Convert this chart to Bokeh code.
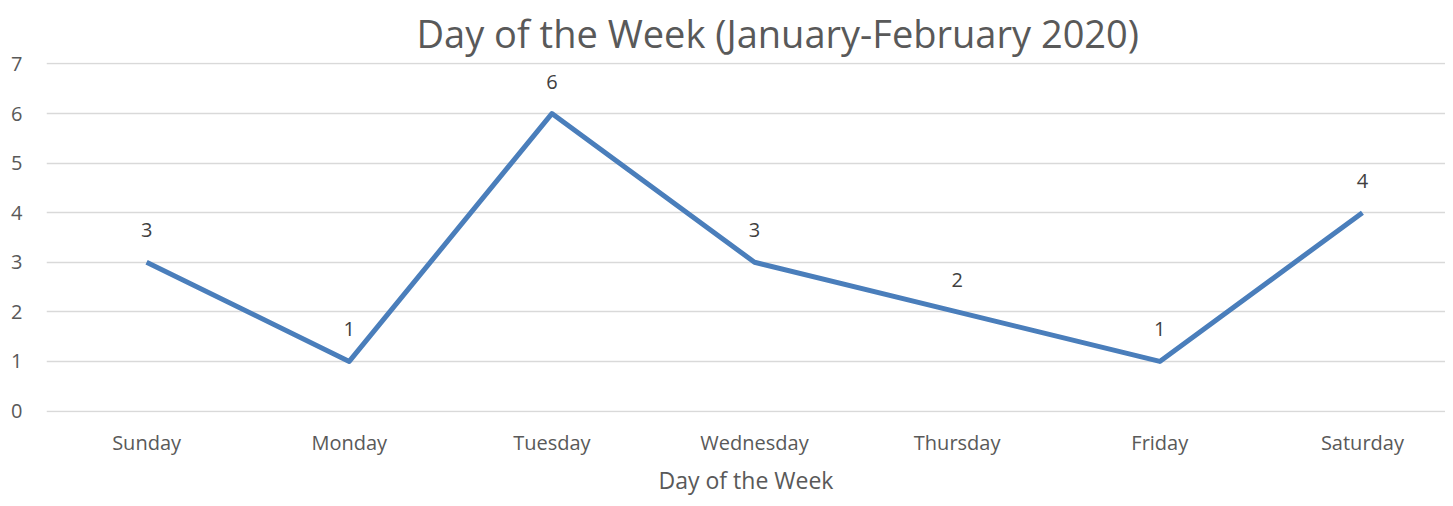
from bokeh.plotting import figure
from bokeh.models import Range1d, FixedTicker, ColumnDataSource
from bokeh.core.properties import value
from bokeh.embed import file_html
from bokeh.resources import INLINE

days = ["Sunday", "Monday", "Tuesday", "Wednesday", "Thursday", "Friday", "Saturday"]
counts = [3, 1, 6, 3, 2, 1, 4]
y_ticks = [0, 1, 2, 3, 4, 5, 6, 7]
title_text = "Day of the Week (January-February 2020)"
x_title = "Day of the Week"

xs = list(range(len(days)))
src = ColumnDataSource(dict(x=xs, y=counts, lbl=[str(c) for c in counts]))

FONT = "Open Sans"
GREY = "#595959"

p = figure(width=1445, height=498, output_backend="svg", toolbar_location=None,
           x_range=Range1d(-0.494, 6.41), y_range=Range1d(-0.03, 7.03),
           min_border_left=46, min_border_right=0, min_border_top=61, min_border_bottom=85)

p.title.text = title_text
p.title.text_font = FONT
p.title.text_font_size = "38px"
p.title.text_font_style = "normal"
p.title.text_color = GREY
p.title.align = "left"
p.title.offset = 370
p.title.standoff = 8

p.outline_line_color = None
p.xgrid.grid_line_color = None
p.ygrid.grid_line_color = "#d9d9d9"
p.ygrid.grid_line_width = 1.5

p.yaxis.ticker = FixedTicker(ticks=y_ticks)
p.xaxis.ticker = FixedTicker(ticks=xs)
p.xaxis.major_label_overrides = {i: d for i, d in enumerate(days)}

for ax in (p.xaxis[0], p.yaxis[0]):
    ax.axis_line_color = None
    ax.major_tick_line_color = None
    ax.minor_tick_line_color = None
    ax.major_tick_out = 0
    ax.major_tick_in = 0
    ax.major_label_text_font = FONT
    ax.major_label_text_font_size = "20px"
    ax.major_label_text_color = GREY

p.yaxis.major_label_standoff = 24
p.xaxis.major_label_standoff = 16
p.xaxis.axis_label = x_title
p.xaxis.axis_label_text_font = FONT
p.xaxis.axis_label_text_font_size = "23px"
p.xaxis.axis_label_text_font_style = "normal"
p.xaxis.axis_label_text_color = GREY
p.xaxis.axis_label_standoff = 5

p.line("x", "y", source=src, line_color="#4a7ebb", line_width=5, line_join="round")
p.text("x", "y", text="lbl", source=src, y_offset=-32, text_align="center",
       text_baseline="middle", text_font=value(FONT), text_font_size="20px",
       text_color="#404040")

open("out.html", "w").write(file_html(p, INLINE))
